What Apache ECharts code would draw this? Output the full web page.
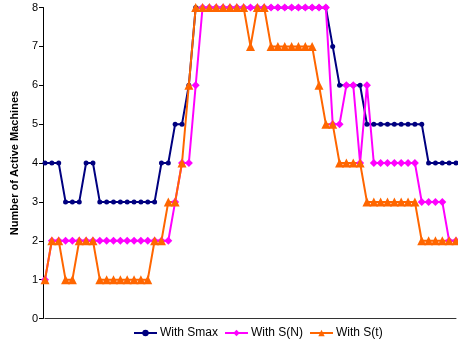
<!DOCTYPE html>
<html>
<head>
<meta charset="utf-8">
<script src="https://cdn.jsdelivr.net/npm/echarts@6/dist/echarts.min.js"></script>
<style>
  html, body { margin: 0; padding: 0; background: #fff; }
  #chart { width: 458px; height: 348px; }
</style>
</head>
<body>
<div id="chart"></div>
<script>
// Time steps along the x axis (unlabelled)
const steps = Array.from({ length: 61 }, (_, i) => String(i + 1));

// Number of active machines per step for each policy
const withSmax = [4,4,4,3,3,3,4,4,3,3,3,3,3,3,3,3,3,4,4,5,5,6,
  8,8,8,8,8,8,8,8,8,8,8,8,8,8,8,8,8,8,8,8,
  7,6,6,6,6,5,5,5,5,5,5,5,5,5,4,4,4,4,4];
const withSN = [1,2,2,2,2,2,2,2,2,2,2,2,2,2,2,2,2,2,2,3,4,4,6,
  8,8,8,8,8,8,8,8,8,8,8,8,8,8,8,8,8,8,8,
  5,5,6,6,4,6,4,4,4,4,4,4,4,3,3,3,3,2,2];
const withSt = [1,2,2,1,1,2,2,2,1,1,1,1,1,1,1,1,2,2,3,3,4,6,
  8,8,8,8,8,8,8,8,7,8,8,7,7,7,7,7,7,7,6,5,5,
  4,4,4,4,3,3,3,3,3,3,3,3,2,2,2,2,2,2];

const yTicks = { min: 0, max: 8, interval: 1 };
const seriesNames = ['With Smax', 'With S(N)', 'With S(t)'];

const font = 'Arial, "Liberation Sans", sans-serif';
const chart = echarts.init(document.getElementById('chart'), null, { renderer: 'canvas' });

function lineSeries(name, data, color, symbol, size) {
  return {
    name, type: 'line', data, color,
    symbol, symbolSize: size,
    showAllSymbol: true,
    lineStyle: { width: 2, color },
    itemStyle: { color }
  };
}

chart.setOption({
  animation: false,
  backgroundColor: '#ffffff',
  grid: { left: 45, right: 2, top: 7.5, bottom: 29.5, containLabel: false },
  xAxis: {
    type: 'category',
    data: steps,
    boundaryGap: false,
    axisLine: { show: true, lineStyle: { color: '#333', width: 1 } },
    axisTick: { show: false },
    axisLabel: { show: false },
    splitLine: { show: false }
  },
  yAxis: {
    type: 'value',
    min: yTicks.min,
    max: yTicks.max,
    interval: yTicks.interval,
    offset: 2,
    name: 'Number of Active Machines',
    nameLocation: 'middle',
    nameGap: 23,
    nameTextStyle: { fontFamily: font, fontSize: 11, fontWeight: 'bold', color: '#000' },
    axisLine: { show: true, lineStyle: { color: '#000', width: 1 } },
    axisTick: { show: true, length: 4, lineStyle: { color: '#000' } },
    axisLabel: { fontFamily: font, fontSize: 11, color: '#000', margin: 5 },
    splitLine: { show: false }
  },
  legend: {
    bottom: 4,
    left: 128,
    itemWidth: 23,
    itemHeight: 8,
    itemGap: 6,
    textStyle: { fontFamily: font, fontSize: 12, color: '#000', padding: [0, 0, 0, -2] },
    data: seriesNames
  },
  series: [
    lineSeries(seriesNames[0], withSmax, '#000080', 'circle', 5),
    lineSeries(seriesNames[1], withSN, '#ff00ff', 'diamond', 8),
    lineSeries(seriesNames[2], withSt, '#ff6600', 'triangle', 9)
  ]
});
</script>
</body>
</html>
